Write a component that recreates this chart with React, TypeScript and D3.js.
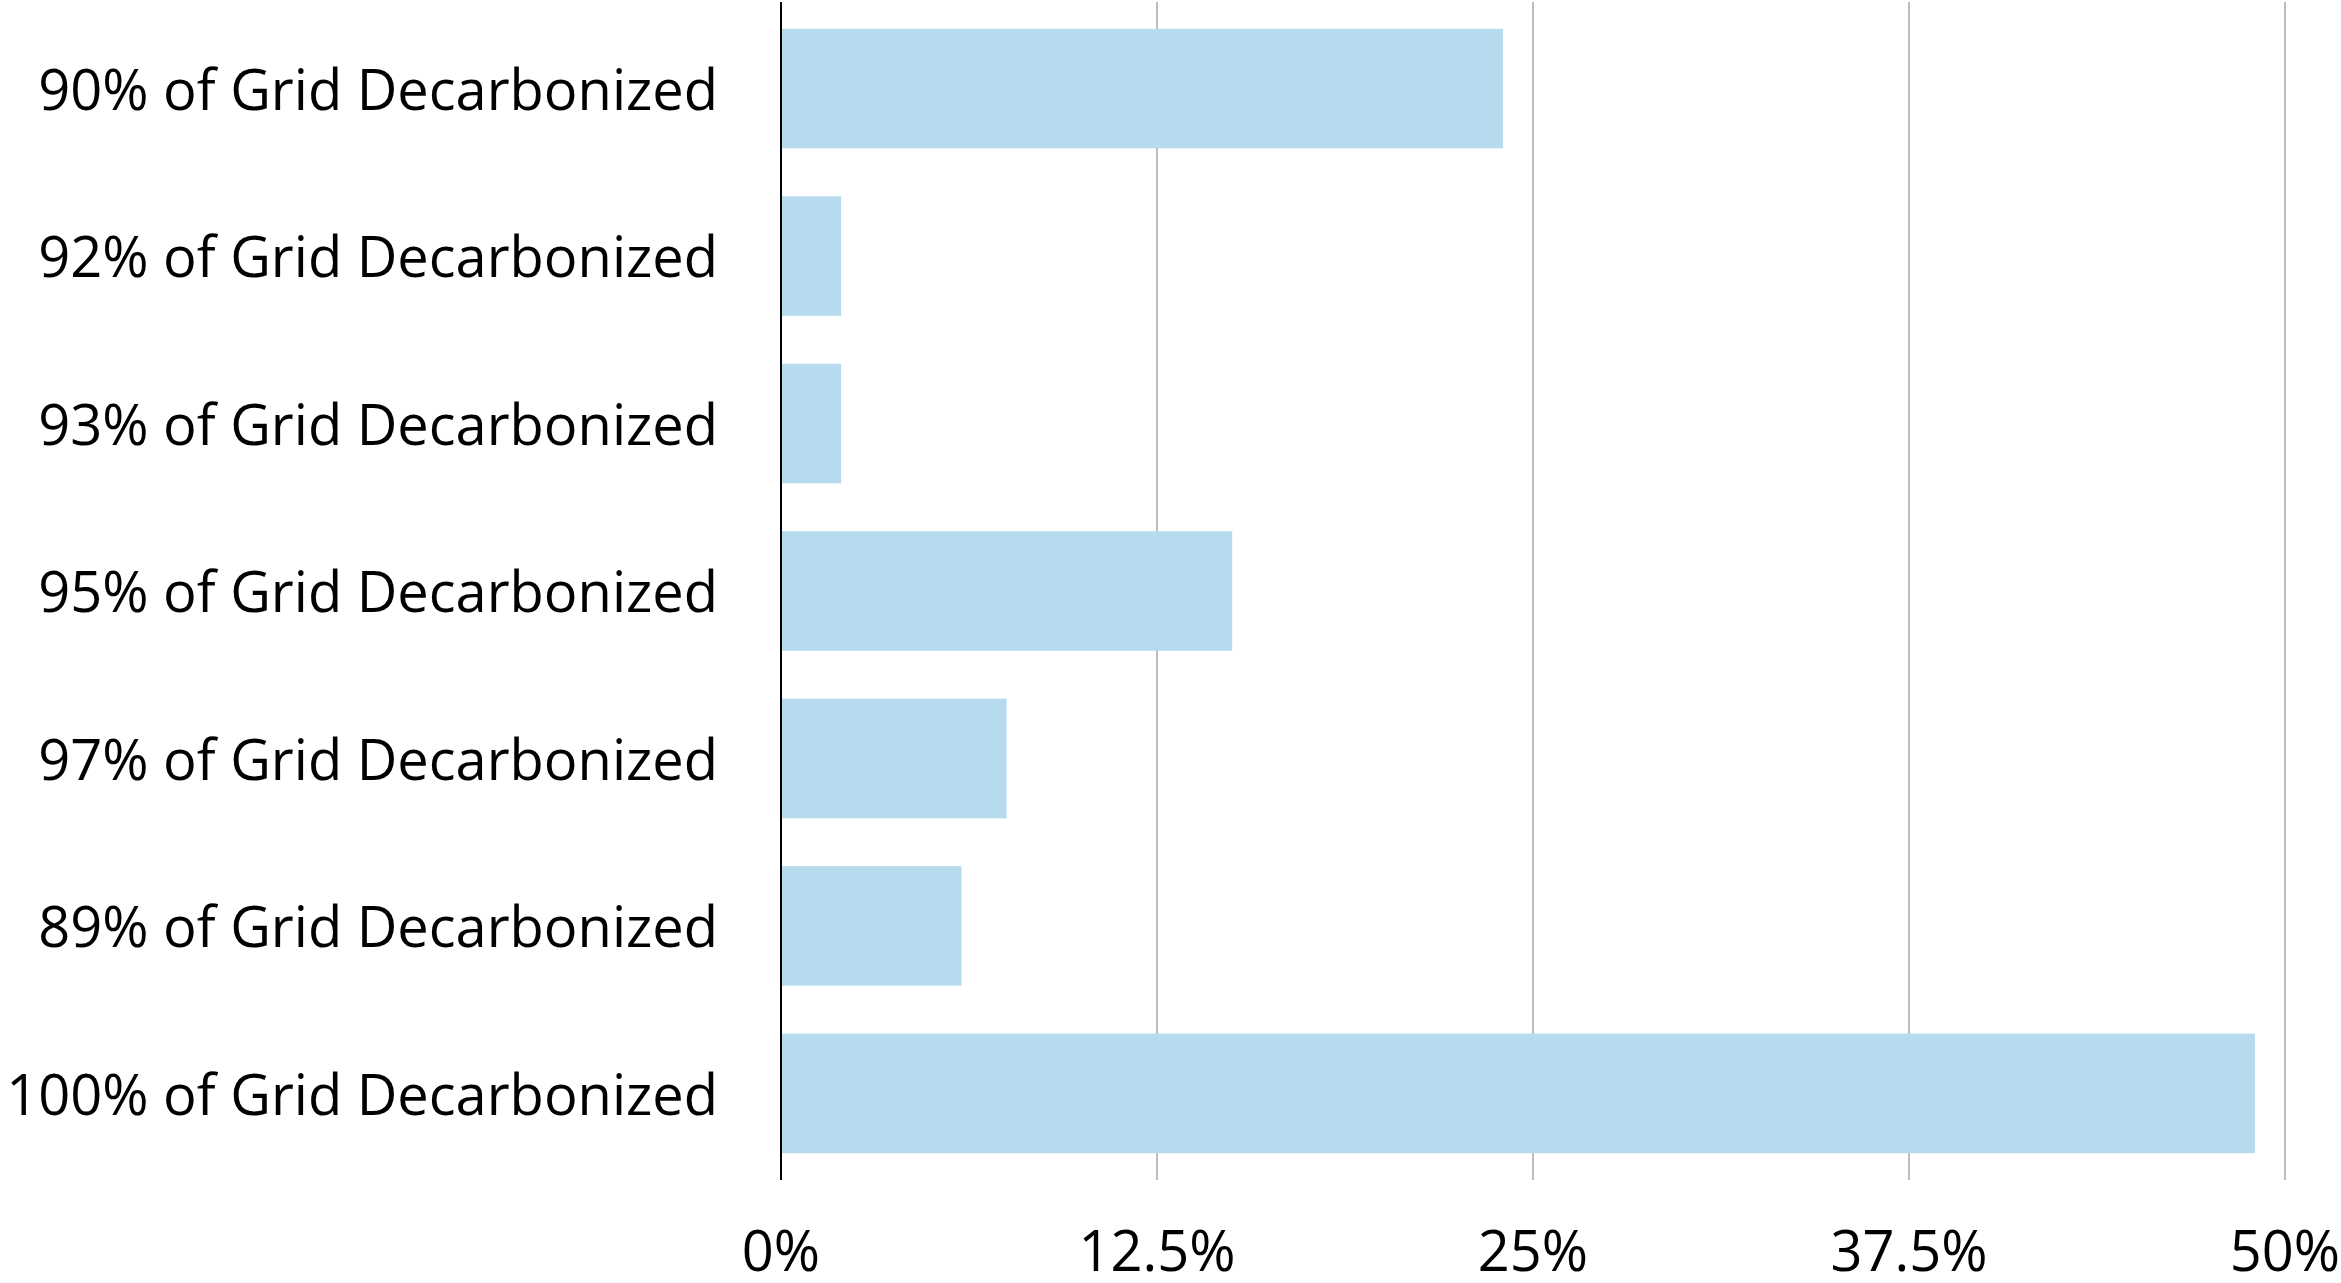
import React from "react";
import * as d3 from "d3";

const categories = [
  "90% of Grid Decarbonized",
  "92% of Grid Decarbonized",
  "93% of Grid Decarbonized",
  "95% of Grid Decarbonized",
  "97% of Grid Decarbonized",
  "89% of Grid Decarbonized",
  "100% of Grid Decarbonized",
];
const values = [0.24, 0.02, 0.02, 0.15, 0.075, 0.06, 0.49];
const tickValues = [0, 0.125, 0.25, 0.375, 0.5];
const tickLabels = ["0%", "12.5%", "25%", "37.5%", "50%"];

const W = 2341;
const H = 1283;
const FONT = "'Open Sans', sans-serif";

export default function App() {
  const x = d3.scaleLinear().domain([0, 0.5]).range([781, 2285]);
  const y = d3
    .scaleBand<string>()
    .domain(categories)
    .range([2, 1180])
    .paddingInner(0.286)
    .paddingOuter(0.16);

  return (
    <svg
      width={W}
      height={H}
      style={{ position: "absolute", left: 0, top: 0, background: "#fff" }}
    >
      {tickValues.slice(1).map((t) => (
        <line
          key={"g" + t}
          x1={x(t)}
          x2={x(t)}
          y1={2}
          y2={1180}
          stroke="#bdbdbd"
          strokeWidth={2}
        />
      ))}
      {categories.map((c, i) => (
        <rect
          key={c}
          x={x(0)}
          y={y(c)}
          width={x(values[i]) - x(0)}
          height={y.bandwidth()}
          fill="#b6dbee"
        />
      ))}
      <line x1={x(0)} x2={x(0)} y1={2} y2={1180} stroke="#000" strokeWidth={2} />
      {categories.map((c) => (
        <text
          key={"l" + c}
          x={718}
          y={(y(c) as number) + y.bandwidth() / 2}
          dy="0.38em"
          textAnchor="end"
          fontFamily={FONT}
          fontSize={56}
          fill="#000"
        >
          {c}
        </text>
      ))}
      {tickValues.map((t, i) => (
        <text
          key={"t" + t}
          x={x(t)}
          y={1271}
          textAnchor="middle"
          fontFamily={FONT}
          fontSize={56}
          fill="#000"
        >
          {tickLabels[i]}
        </text>
      ))}
    </svg>
  );
}
